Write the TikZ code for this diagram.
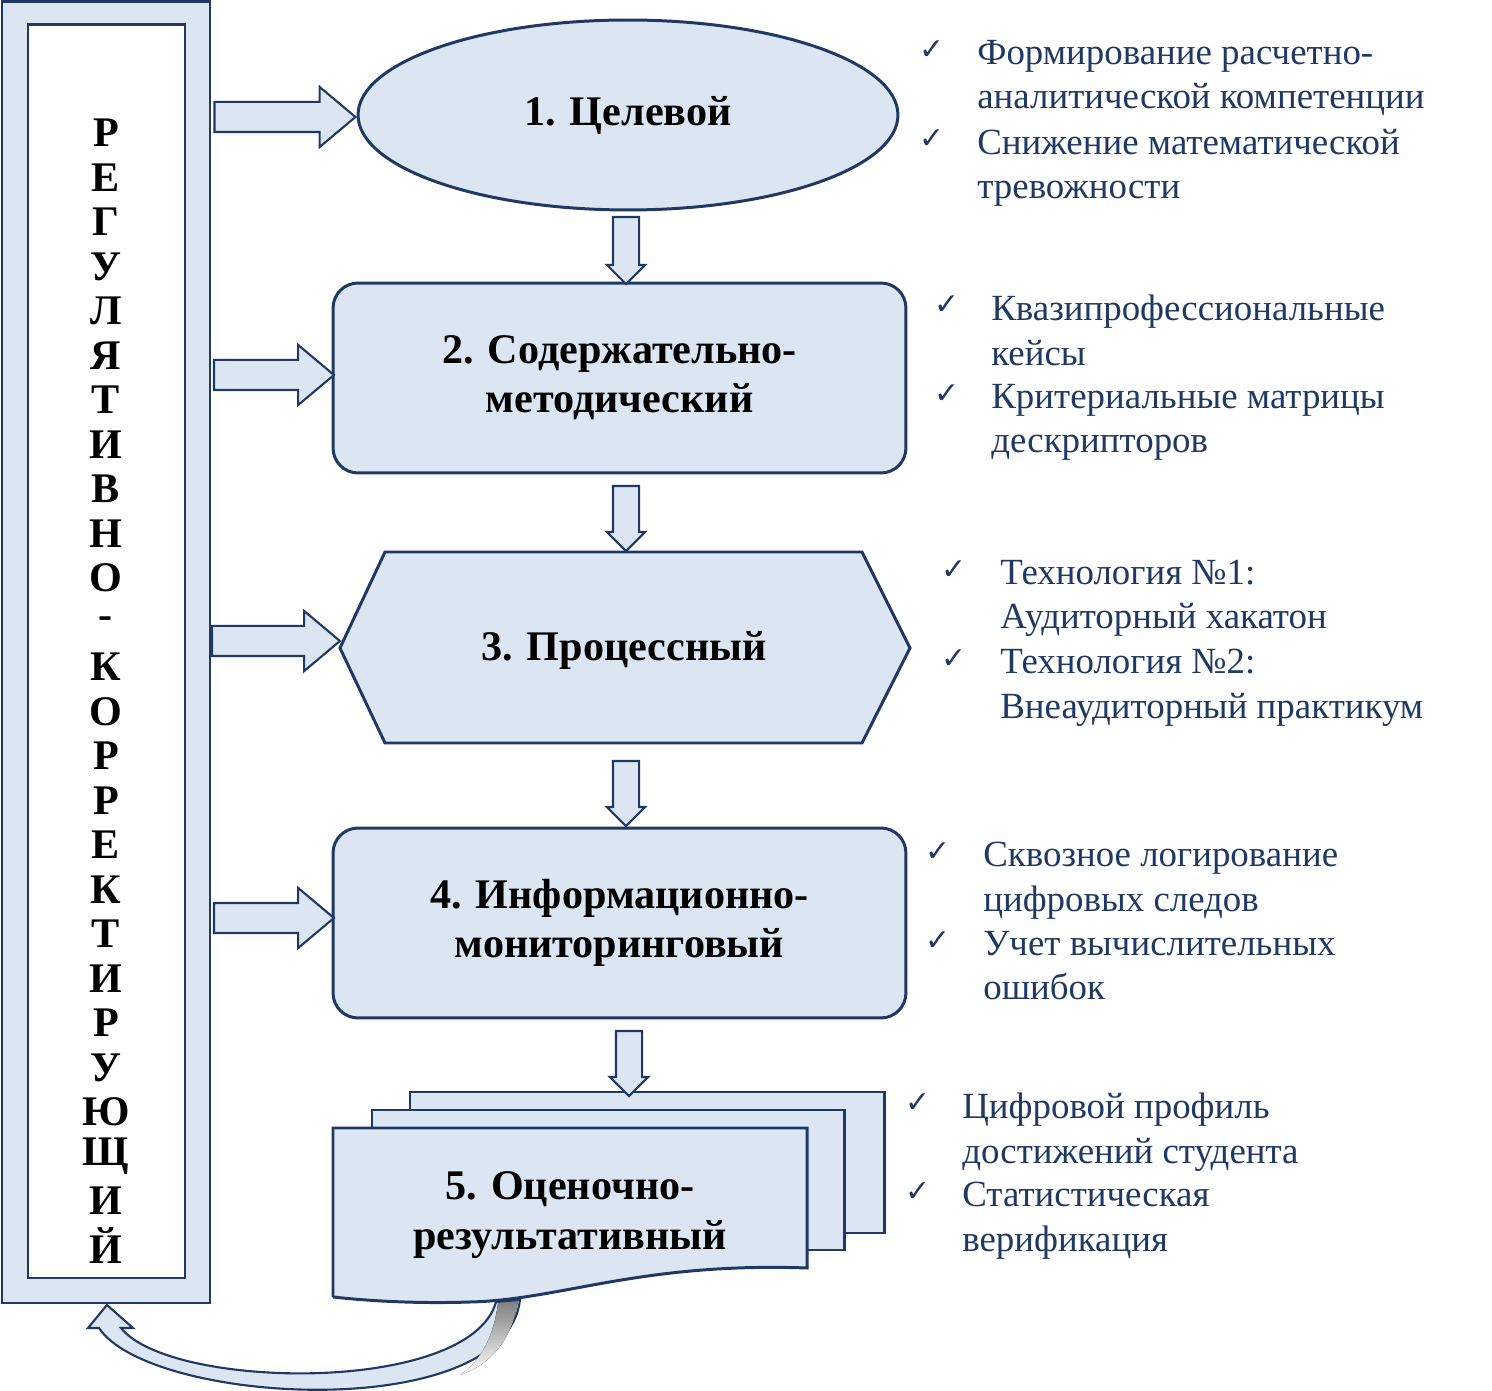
\documentclass[tikz,border=0pt]{standalone}
\usepackage{fontspec}
\setmainfont{Liberation Serif}
\newfontfamily\symfont{DejaVu Sans}
\usetikzlibrary{shapes,shapes.geometric,shapes.arrows,calc,positioning}
\definecolor{navy}{HTML}{1F3864}
\definecolor{pale}{HTML}{DCE6F2}
\definecolor{shade}{HTML}{ADB9CA}
\newcommand{\chk}{{\symfont\fontsize{17}{20}\selectfont ✓}}
\begin{document}
\begin{tikzpicture}[x=0.02cm,y=-0.02cm,
     stage/.style={draw=navy,fill=pale,line width=1.7pt,align=center,
       font=\fontsize{24}{28}\selectfont\bfseries},
     item/.style={anchor=north west,align=left,inner sep=0pt,text=navy,
       font=\fontsize{21}{25.2}\selectfont},
     tick/.style={text=navy,inner sep=0pt},
     rarrow/.style={single arrow,draw=navy,fill=pale,line width=1.2pt,
       inner sep=0pt,inner ysep=0.28cm,single arrow head extend=0.3cm,
       single arrow tip angle=80},
     darrow/.style={single arrow,draw=navy,fill=pale,line width=1.2pt,
       inner sep=0pt,inner xsep=0.24cm,inner ysep=0.24cm,single arrow head extend=0.12cm,
       single arrow tip angle=90,shape border rotate=270}]
  \useasboundingbox (0,0) rectangle (1492,1391);

  % left frame
  \draw[draw=navy,fill=pale,line width=1.7pt] (2,2) rectangle (210,1303);
  \draw[draw=navy,fill=white,line width=1.7pt] (28,25) rectangle (185,1278);
  \coordinate (frame) at (106,1303);
  \foreach \c [count=\i from 0] in {Р,Е,Г,У,Л,Я,Т,И,В,Н,О,-,К,О,Р,Р,Е,К,Т,И,Р,У,Ю,Щ,И,Й}
    \node[font=\fontsize{24}{28}\selectfont\bfseries] at (106,{133+44.5*\i}) {\c};

  % stages
  \node[stage,ellipse,minimum width=10.8cm,minimum height=3.8cm] (goal) at (628,115) {1. Целевой};
  \node[stage,rectangle,rounded corners=0.5cm,minimum width=11.46cm,minimum height=3.8cm] (content) at (619.5,378) {2. Содержательно-\\методический};
  \draw[stage] (340,648) -- (385,552) -- (862,552) -- (910,648) -- (862,743) -- (385,743) -- cycle;
  \node[font=\fontsize{24}{28}\selectfont\bfseries] (process) at (624,650) {3. Процессный};
  \node[stage,rectangle,rounded corners=0.5cm,minimum width=11.46cm,minimum height=3.8cm] (monitor) at (619.5,923) {4. Информационно-\\мониторинговый};
  \draw[stage] (410,1092) rectangle (884,1233);
  \draw[stage] (372,1110) rectangle (844,1250);
  \draw[stage] (333,1297) -- (333,1128) -- (807,1128) -- (807,1268)
    .. controls (640,1262) and (560,1300) .. (470,1302) .. controls (410,1304) and (360,1300) .. (333,1297);
  \node[font=\fontsize{24}{28}\selectfont\bfseries,align=center] (result) at (570,1215) {5. Оценочно-\\результативный};

  % arrows from frame
  \node[rarrow,minimum height=2.82cm] at (276,117) {};
  \node[rarrow,minimum height=2.4cm] at (265,375) {};
  \node[rarrow,minimum height=2.56cm] at (267,641) {};
  \node[rarrow,minimum height=2.4cm] at (265,918) {};

  % arrows between stages
  \node[darrow,minimum height=1.34cm] at (626,244) {};
  \node[darrow,minimum height=1.3cm] at (626,512) {};
  \node[darrow,minimum height=1.3cm] at (626,787) {};
  \node[darrow,minimum height=1.3cm] at (629,1057) {};

  % feedback arrow
  \draw[draw=navy,fill=pale,line width=1.2pt]
    (107,1305) -- (133,1328) -- (121,1328)
    .. controls (170,1390) and (470,1395) .. (496,1302)
    -- (520,1300) .. controls (505,1425) and (150,1405) .. (99,1328)
    -- (88,1328) -- cycle;
  \fill[shade] (498,1303) -- (518,1301) .. controls (512,1340) and (490,1365) .. (460,1375)
    .. controls (482,1360) and (494,1335) .. cycle;

  % notes
  \node[tick] at (932,50) {\chk};
  \node[item] at (977,40) {Формирование расчетно-\\аналитической компетенции};
  \node[tick] at (932,139) {\chk};
  \node[item] at (977,129) {Снижение математической\\тревожности};

  \node[tick] at (947,305) {\chk};
  \node[item] at (991,295) {Квазипрофессиональные\\кейсы};
  \node[tick] at (947,394) {\chk};
  \node[item] at (991,384) {Критериальные матрицы\\дескрипторов};

  \node[tick] at (954,570) {\chk};
  \node[item] at (1000,560) {Технология №1:\\Аудиторный хакатон};
  \node[tick] at (954,659) {\chk};
  \node[item] at (1000,649) {Технология №2:\\Внеаудиторный практикум};

  \node[tick] at (938,852) {\chk};
  \node[item] at (983,842) {Сквозное логирование\\цифровых следов};
  \node[tick] at (938,941) {\chk};
  \node[item] at (983,931) {Учет вычислительных\\ошибок};

  \node[tick] at (918,1103) {\chk};
  \node[item] at (962,1093) {Цифровой профиль\\достижений студента};
  \node[tick] at (918,1192) {\chk};
  \node[item] at (962,1182) {Статистическая\\верификация};
\end{tikzpicture}
\end{document}
